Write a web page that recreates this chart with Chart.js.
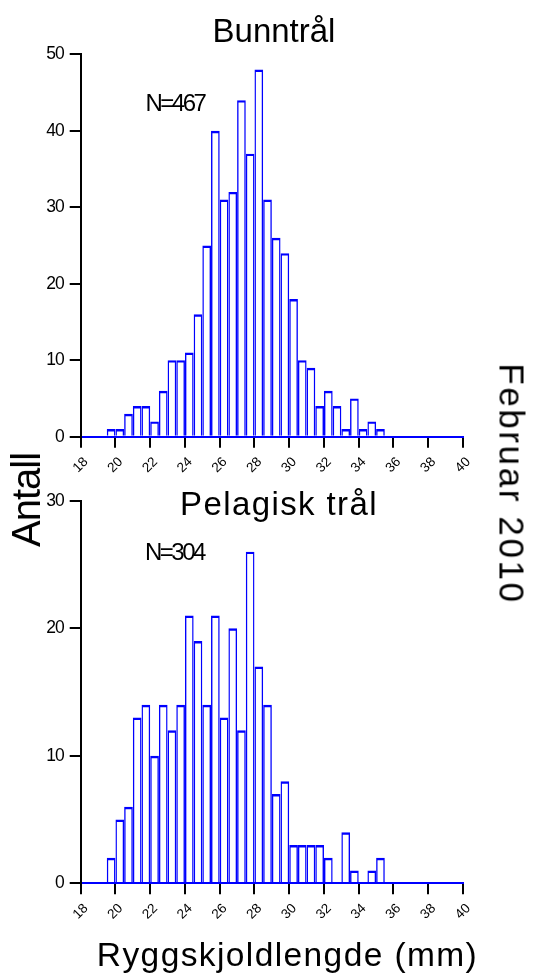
<!DOCTYPE html>
<html lang="no">
<head>
<meta charset="utf-8">
<title>Ryggskjoldlengde – Februar 2010</title>
<script src="https://cdn.jsdelivr.net/npm/chart.js@4.4.1/dist/chart.umd.min.js"></script>
<style>
  html, body { margin: 0; padding: 0; background: #fff; }
  #page { position: relative; width: 536px; height: 977px; overflow: hidden; background: #fff;
          font-family: "Liberation Sans", Arial, Helvetica, sans-serif; color: #000; }
  canvas { position: absolute; left: 0; }
  #cTop { top: 0; }
  #cBottom { top: 480px; }
  .txt { position: absolute; white-space: nowrap; line-height: 1; }
  .center { transform: translateX(-50%); }
</style>
</head>
<body>
<div id="page">
  <canvas id="cTop" width="536" height="480"></canvas>
  <canvas id="cBottom" width="536" height="460"></canvas>

  <div class="txt center" style="left:274px; top:14.4px; font-size:33px;">Bunntrål</div>
  <div class="txt" style="left:145.5px; top:91.4px; font-size:24px; letter-spacing:-2.5px;">N=467</div>

  <div class="txt center" style="left:279px; top:487.4px; font-size:33px; letter-spacing:1.4px;">Pelagisk trål</div>
  <div class="txt" style="left:145px; top:539.7px; font-size:24px; letter-spacing:-2.5px;">N=304</div>

  <div class="txt" style="left:25.5px; top:500px; font-size:40px; letter-spacing:-1px; transform:translate(-50%,-50%) rotate(-90deg);">Antall</div>
  <div class="txt" style="left:511.5px; top:484px; font-size:35px; letter-spacing:2.6px; transform:translate(-50%,-50%) rotate(90deg);">Februar 2010</div>

  <div class="txt center" style="left:287.5px; top:938.3px; font-size:33.5px; letter-spacing:1.4px;">Ryggskjoldlengde (mm)</div>
</div>

<script>
// Carapace length classes (lower edge of each 0.5 mm class, mm)
const binStarts = [19.5, 20, 20.5, 21, 21.5, 22, 22.5, 23, 23.5, 24, 24.5, 25, 25.5, 26, 26.5, 27,
                   27.5, 28, 28.5, 29, 29.5, 30, 30.5, 31, 31.5, 32, 32.5, 33, 33.5, 34, 34.5, 35];
const binWidth = 0.5;

// Counts per class – bottom trawl (N=467)
const bunntral = [1, 1, 3, 4, 4, 2, 6, 10, 10, 11, 16, 25, 40, 31, 32, 44,
                  37, 48, 31, 26, 24, 18, 10, 9, 4, 6, 4, 1, 5, 1, 2, 1];

// Counts per class – pelagic trawl (N=304)
const pelagisk = [2, 5, 6, 13, 14, 10, 14, 12, 14, 21, 19, 14, 21, 13, 20, 12,
                  26, 17, 14, 7, 8, 3, 3, 3, 3, 2, 0, 4, 1, 0, 1, 2];

// Axis ticks
const xTicks = [18, 20, 22, 24, 26, 28, 30, 32, 34, 36, 38, 40];
const yTicksTop = [0, 10, 20, 30, 40, 50];
const yTicksBottom = [0, 10, 20, 30];

const FONT = '"Liberation Sans", Arial, Helvetica, sans-serif';
const BLUE = '#0000ff';

// Rotated x labels centred under each tick
const xLabelPlugin = {
  id: 'xLabels',
  afterDraw(chart) {
    const ctx = chart.ctx;
    const xs = chart.scales.x;
    const base = chart.chartArea.bottom;
    ctx.save();
    ctx.letterSpacing = '0px';
    ctx.fillStyle = '#000';
    ctx.font = '13.5px ' + FONT;
    ctx.textAlign = 'center';
    ctx.textBaseline = 'middle';
    xTicks.forEach(v => {
      const px = xs.getPixelForValue(v);
      ctx.save();
      ctx.translate(px, base + 28.3);
      ctx.rotate(-Math.PI / 4);
      ctx.fillText(String(v), 0, 0);
      ctx.restore();
    });
    ctx.restore();
  }
};

// Slightly condensed y tick text
const condensePlugin = {
  id: 'condense',
  beforeDraw(chart) { chart.ctx.letterSpacing = '-1px'; }
};

function histogram(canvasId, counts, yTicks, padding) {
  const yMax = yTicks[yTicks.length - 1];
  const points = binStarts.map((s, i) => ({ x: s + binWidth / 2, y: counts[i] }));
  return new Chart(document.getElementById(canvasId), {
    type: 'bar',
    data: {
      datasets: [{
        data: points,
        backgroundColor: 'rgba(255,255,255,0)',
        borderColor: BLUE,
        borderWidth: { top: 2.4, left: 1.4, right: 1.4, bottom: 0 },
        borderSkipped: 'start',
        inflateAmount: 0,
        barPercentage: 1,
        categoryPercentage: 1
      }]
    },
    options: {
      responsive: false,
      animation: false,
      devicePixelRatio: 1,
      layout: { padding: padding },
      plugins: { legend: { display: false }, tooltip: { enabled: false }, title: { display: false } },
      scales: {
        x: {
          type: 'linear',
          min: xTicks[0],
          max: xTicks[xTicks.length - 1],
          offset: false,
          afterFit(scale) { scale.height = 40; },
          afterBuildTicks(scale) { scale.ticks = xTicks.map(v => ({ value: v })); },
          ticks: { display: false },
          grid: { display: true, offset: false, drawOnChartArea: false, drawTicks: true, tickLength: 11,
                  color: '#000', lineWidth: 2 },
          border: { display: true, color: BLUE, width: 2 }
        },
        y: {
          type: 'linear',
          min: 0,
          max: yMax,
          afterFit(scale) { scale.width = 40; },
          afterBuildTicks(scale) { scale.ticks = yTicks.map(v => ({ value: v })); },
          ticks: { color: '#000', padding: 6, font: { family: FONT, size: 17.5 } },
          grid: { display: true, offset: false, drawOnChartArea: false, drawTicks: true, tickLength: 11,
                  color: '#000', lineWidth: 2 },
          border: { display: true, color: '#000', width: 2 }
        }
      }
    },
    plugins: [condensePlugin, xLabelPlugin]
  });
}

histogram('cTop', bunntral, yTicksTop, { left: 40.7, right: 73, top: 54.3, bottom: 3.3 });
histogram('cBottom', pelagisk, yTicksBottom, { left: 40.7, right: 73, top: 20.7, bottom: 16.7 });
</script>
</body>
</html>
